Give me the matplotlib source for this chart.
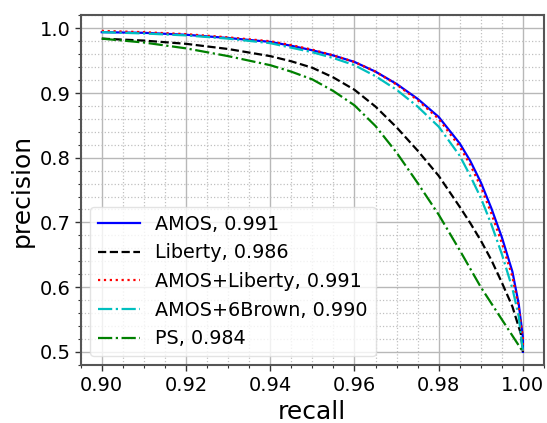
import matplotlib
matplotlib.use("Agg")
import matplotlib.pyplot as plt
from matplotlib.ticker import MultipleLocator, FormatStrFormatter

# Data (recall, precision)
amos_r = [0.900, 0.910, 0.920, 0.930, 0.940, 0.945, 0.950, 0.955, 0.960, 0.965, 0.970, 0.975, 0.980, 0.985, 0.9875, 0.990, 0.9925, 0.995, 0.9975, 0.999, 1.000, 1.000]
amos_p = [0.994, 0.993, 0.990, 0.985, 0.979, 0.973, 0.966, 0.958, 0.948, 0.933, 0.914, 0.891, 0.863, 0.822, 0.795, 0.762, 0.722, 0.677, 0.624, 0.574, 0.522, 0.500]

liberty_r = [0.900, 0.910, 0.920, 0.930, 0.940, 0.945, 0.950, 0.955, 0.960, 0.965, 0.970, 0.975, 0.980, 0.985, 0.9875, 0.990, 0.9925, 0.995, 0.9975, 0.9995, 1.000]
liberty_p = [0.984, 0.981, 0.976, 0.968, 0.957, 0.949, 0.939, 0.924, 0.905, 0.879, 0.847, 0.811, 0.772, 0.724, 0.699, 0.672, 0.642, 0.607, 0.570, 0.528, 0.500]

amoslib_r = [0.900, 0.910, 0.920, 0.930, 0.940, 0.945, 0.950, 0.955, 0.960, 0.965, 0.970, 0.975, 0.980, 0.985, 0.9875, 0.990, 0.9925, 0.995, 0.9975, 0.999, 1.000, 1.000]
amoslib_p = [0.996, 0.994, 0.991, 0.986, 0.980, 0.974, 0.967, 0.958, 0.948, 0.933, 0.913, 0.889, 0.860, 0.817, 0.789, 0.755, 0.714, 0.668, 0.616, 0.568, 0.520, 0.500]

amos6b_r = [0.900, 0.910, 0.920, 0.930, 0.940, 0.945, 0.950, 0.955, 0.960, 0.965, 0.970, 0.975, 0.980, 0.985, 0.9875, 0.990, 0.9925, 0.995, 0.9975, 0.999, 1.000]
amos6b_p = [0.994, 0.992, 0.989, 0.984, 0.977, 0.970, 0.963, 0.954, 0.943, 0.926, 0.905, 0.879, 0.848, 0.803, 0.772, 0.738, 0.697, 0.651, 0.598, 0.555, 0.500]

ps_r = [0.900, 0.910, 0.920, 0.930, 0.940, 0.945, 0.950, 0.955, 0.960, 0.965, 0.970, 0.975, 0.980, 0.985, 0.990, 0.995, 1.000]
ps_p = [0.984, 0.978, 0.969, 0.957, 0.943, 0.933, 0.921, 0.903, 0.881, 0.849, 0.808, 0.761, 0.712, 0.657, 0.600, 0.550, 0.500]

labels = ["AMOS, 0.991", "Liberty, 0.986", "AMOS+Liberty, 0.991", "AMOS+6Brown, 0.990", "PS, 0.984"]

fig = plt.figure(figsize=(5.47, 4.23), dpi=100)
ax = fig.add_axes([0.1475, 0.136, 0.847, 0.8285])

ax.plot(amos_r, amos_p, color="b", linestyle="-", lw=1.6, label=labels[0])
ax.plot(liberty_r, liberty_p, color="k", linestyle="--", lw=1.6, label=labels[1])
ax.plot(amoslib_r, amoslib_p, color="r", linestyle=":", lw=1.6, label=labels[2])
ax.plot(amos6b_r, amos6b_p, color="c", linestyle="-.", lw=1.6, label=labels[3])
ax.plot(ps_r, ps_p, color="g", linestyle="-.", lw=1.6, label=labels[4])

ax.set_xlim(0.895, 1.005)
ax.set_ylim(0.479, 1.0205)
ax.xaxis.set_major_locator(MultipleLocator(0.02))
ax.xaxis.set_minor_locator(MultipleLocator(0.005))
ax.yaxis.set_major_locator(MultipleLocator(0.1))
ax.yaxis.set_minor_locator(MultipleLocator(0.02))
ax.xaxis.set_major_formatter(FormatStrFormatter("%.2f"))
ax.yaxis.set_major_formatter(FormatStrFormatter("%.1f"))

ax.grid(which="major", color="#b8b8b8", linestyle="-", lw=1.0)
ax.grid(which="minor", color="#c0c0c0", linestyle=":", lw=0.9)
ax.set_axisbelow(True)

for s in ax.spines.values():
    s.set_color("#555555")
    s.set_linewidth(1.5)

ax.tick_params(which="major", direction="out", length=4, width=1, colors="#333333", labelsize=14, labelcolor="black")
ax.tick_params(which="minor", direction="out", length=2.5, width=0.8, colors="#333333")
ax.tick_params(top=False, right=False, which="both")

ax.set_xlabel("recall", fontsize=18)
ax.set_ylabel("precision", fontsize=18)

leg = ax.legend(loc="lower left", fontsize=13.8, handlelength=2.2, framealpha=0.8)
leg.get_frame().set_edgecolor("#dddddd")

fig.savefig("out.png", dpi=100)
